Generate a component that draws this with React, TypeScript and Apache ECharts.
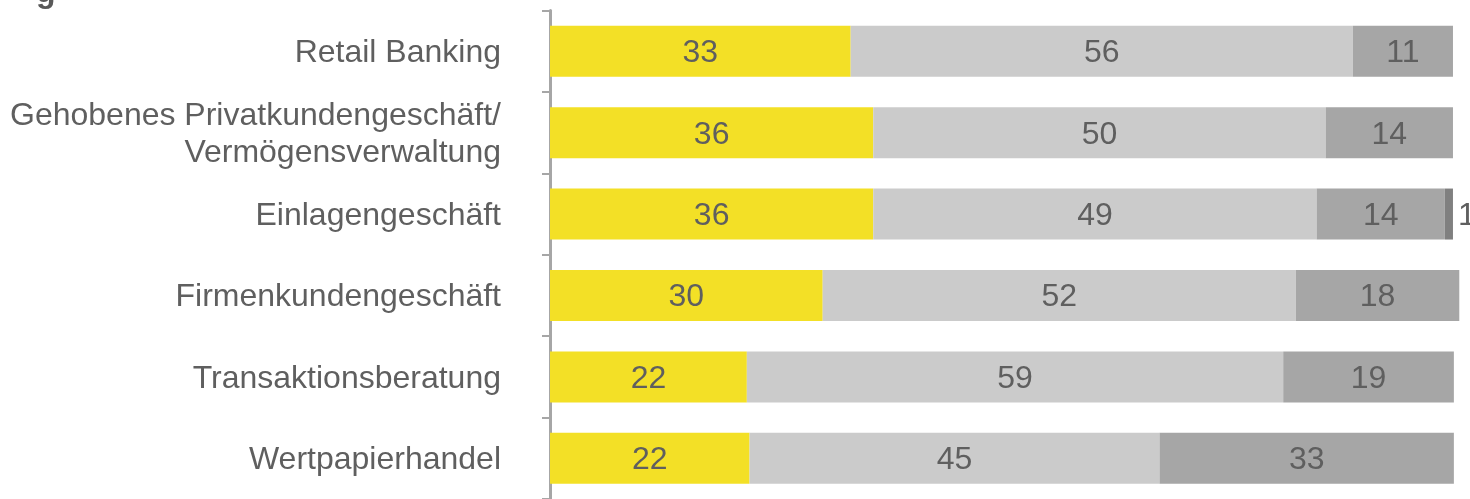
import React, { useEffect, useRef } from "react";
import * as echarts from "echarts";

const categories = [
  "Retail Banking",
  "Gehobenes Privatkundengeschäft/\nVermögensverwaltung",
  "Einlagengeschäft",
  "Firmenkundengeschäft",
  "Transaktionsberatung",
  "Wertpapierhandel",
];
const seriesA = [33.3, 35.8, 35.8, 30.2, 21.8, 22.1];
const seriesB = [55.6, 50.1, 49.1, 52.4, 59.4, 45.4];
const seriesC = [11.1, 14.1, 14.2, 18.1, 18.9, 32.6];
const seriesD = [null, null, 0.9, null, null, null];

const FONT = "'Liberation Sans', Arial, sans-serif";
const TXT = "#5f5f5f";

export default function App() {
  const ref = useRef<HTMLDivElement>(null);
  useEffect(() => {
    if (!ref.current) return;
    const chart = echarts.init(ref.current, undefined, { renderer: "svg" });
    const lbl = (pos: string) => ({
      show: true,
      position: pos,
      fontSize: 32,
      fontFamily: FONT,
      color: TXT,
      formatter: (p: any) => (p.value == null ? "" : String(Math.round(p.value))),
    });
    const mk = (name: string, data: any[], color: string, pos = "inside") => ({
      name,
      type: "bar",
      stack: "s",
      data,
      barWidth: 51,
      itemStyle: { color },
      label: lbl(pos),
      emphasis: { disabled: true },
    });
    chart.setOption({
      animation: false,
      grid: { left: 550, top: 10.5, width: 912, height: 492, containLabel: false },
      xAxis: { type: "value", min: 0, max: 101, show: false },
      yAxis: {
        type: "category",
        data: categories,
        inverse: true,
        axisLine: { show: true, lineStyle: { color: "#a6a6a6", width: 3 } },
        axisTick: { show: true, length: 8, lineStyle: { color: "#a6a6a6", width: 2 } },
        axisLabel: {
          margin: 49,
          fontSize: 32,
          fontFamily: FONT,
          color: TXT,
          lineHeight: 37,
          align: "right",
        },
        splitLine: { show: false },
      },
      graphic: [
        {
          type: "text",
          left: 36,
          top: -25,
          style: { text: "g", fontSize: 32, fontWeight: "bold", fontFamily: FONT, fill: "#595959" },
        },
      ],
      series: [
        mk("A", seriesA, "#f3e026"),
        mk("B", seriesB, "#cbcbcb"),
        mk("C", seriesC, "#a6a6a6"),
        mk("D", seriesD, "#808080", "right"),
      ],
    });
    return () => chart.dispose();
  }, []);
  return (
    <div
      ref={ref}
      style={{ position: "fixed", left: 0, top: 0, width: 1470, height: 499 }}
    />
  );
}
